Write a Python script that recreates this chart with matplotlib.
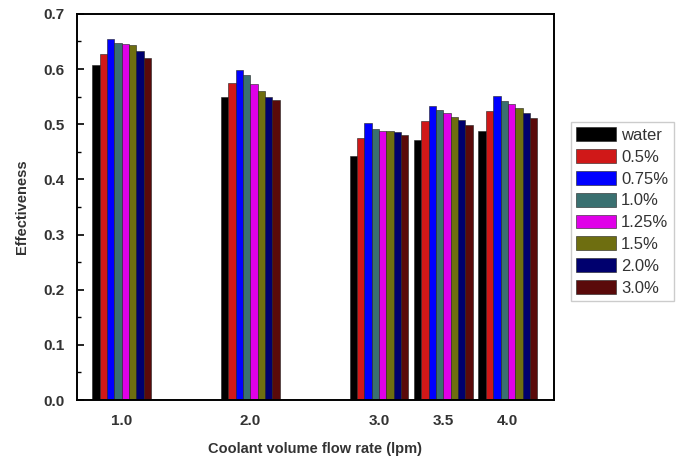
import matplotlib
matplotlib.use("Agg")
import matplotlib.pyplot as plt
import numpy as np

plt.rcParams['font.family'] = ['Liberation Sans', 'DejaVu Sans']

flow_rates = [1.0, 2.0, 3.0, 3.5, 4.0]
tick_labels = ["1.0", "2.0", "3.0", "3.5", "4.0"]
series_names = ["water", "0.5%", "0.75%", "1.0%", "1.25%", "1.5%", "2.0%", "3.0%"]

water = [0.608, 0.549, 0.442, 0.471, 0.488]
c050 = [0.627, 0.575, 0.475, 0.506, 0.524]
c075 = [0.655, 0.598, 0.503, 0.533, 0.552]
c100 = [0.648, 0.590, 0.492, 0.525, 0.542]
c125 = [0.645, 0.572, 0.487, 0.520, 0.536]
c150 = [0.644, 0.561, 0.487, 0.513, 0.529]
c200 = [0.632, 0.550, 0.485, 0.507, 0.520]
c300 = [0.620, 0.543, 0.480, 0.498, 0.511]

series = [water, c050, c075, c100, c125, c150, c200, c300]
colors = ["#000000", "#d01818", "#0000ff", "#3a7070", "#e000e8", "#6e6e10", "#00006e", "#5a0a0a"]

fig = plt.figure(figsize=(6.85, 4.63), dpi=100)
ax = fig.add_axes([0.112, 0.136, 0.697, 0.834])

w = 0.057
handles = []
for i, (vals, col, name) in enumerate(zip(series, colors, series_names)):
    x = np.array(flow_rates) + (i - 3.5) * w
    b = ax.bar(x, vals, width=w, color=col, edgecolor="#202020", linewidth=0.4, label=name)
    handles.append(b)

ax.set_xlim(0.65, 4.36)
ax.set_ylim(0.0, 0.7)
ax.set_xticks(flow_rates)
ax.set_xticklabels(tick_labels)
ax.set_yticks(np.arange(0, 0.71, 0.1))
ax.set_yticklabels([f"{v:.1f}" for v in np.arange(0, 0.71, 0.1)])
ax.set_yticks(np.arange(0.05, 0.7, 0.1), minor=True)
ax.tick_params(axis='both', which='major', direction='in', length=5, width=1.2, labelsize=11)
ax.tick_params(axis='y', which='minor', direction='in', length=3, width=1.0)
ax.tick_params(axis='y', which='major', pad=9)
ax.tick_params(axis='x', which='major', length=0, pad=10)
for lab in ax.get_xticklabels() + ax.get_yticklabels():
    lab.set_fontweight('bold')
    lab.set_color('#333333')
for s in ax.spines.values():
    s.set_linewidth(1.4)
ax.set_ylabel("Effectiveness", fontsize=10.5, fontweight='bold', color='#333333', labelpad=10)
ax.set_xlabel("Coolant volume flow rate (lpm)", fontsize=10.5, fontweight='bold', color='#333333', labelpad=10)

leg = fig.legend(handles=handles, labels=series_names, loc='upper left',
                 bbox_to_anchor=(0.833, 0.737), fontsize=12, frameon=True,
                 fancybox=False, edgecolor='#c0c0c0', handlelength=2.4, handleheight=0.9,
                 handletextpad=0.3, labelspacing=0.37, borderpad=0.33, borderaxespad=0.0)
for t in leg.get_texts():
    t.set_color('#333333')

fig.savefig("out.png", dpi=100)
